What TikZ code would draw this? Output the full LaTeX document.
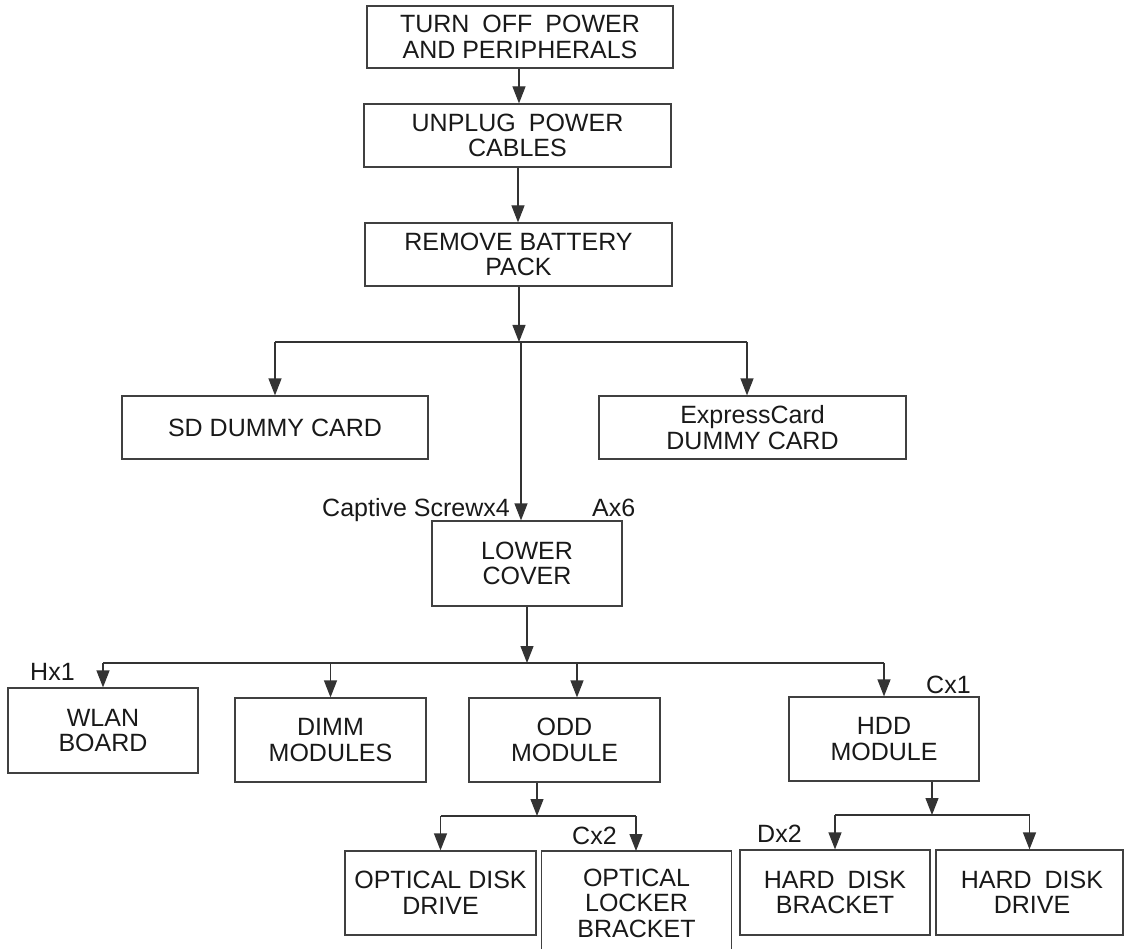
\documentclass[tikz,border=0pt]{standalone}
\usepackage{fontspec}
\setmainfont{Liberation Sans}
\usetikzlibrary{arrows.meta}
\newcommand{\wsp}{\hspace{13pt}}
\tikzset{
  boxn/.style={draw=black!75, line width=1.2pt, rectangle, inner sep=0pt, align=center,
    font=\fontsize{25}{25.5}\selectfont, text=black!90},
  conn/.style={draw=black!80, line width=1.2pt},
  arr/.style={conn, -{Triangle[length=17pt,width=13pt]}},
  lbl/.style={font=\fontsize{25}{25.5}\selectfont, text=black!90, inner sep=0pt}
}
\begin{document}
\begin{tikzpicture}[x=1pt,y=-1pt]
\useasboundingbox (0,0) rectangle (1124,949);
\clip (0,0) rectangle (1124,949);
% boxes
\node[boxn, minimum width=306pt, minimum height=62pt] (top) at (520,37) {TURN\wsp OFF\wsp POWER\\AND PERIPHERALS};
\node[boxn, minimum width=307pt, minimum height=63pt] (unplug) at (517.5,135.5) {UNPLUG\wsp POWER\\CABLES};
\node[boxn, minimum width=307pt, minimum height=63pt] (remove) at (518.5,254.5) {REMOVE BATTERY\\PACK};
\node[boxn, minimum width=306pt, minimum height=63pt] (sd) at (275,427.5) {SD DUMMY CARD};
\node[boxn, minimum width=307pt, minimum height=63pt] (express) at (752.5,427.5) {ExpressCard\\DUMMY CARD};
\node[boxn, minimum width=190pt, minimum height=85pt] (lower) at (527,563.5) {LOWER\\COVER};
\node[boxn, minimum width=190pt, minimum height=85pt] (wlan) at (103,730.5) {WLAN\\BOARD};
\node[boxn, minimum width=191pt, minimum height=84pt] (dimm) at (330.5,740) {DIMM\\MODULES};
\node[boxn, minimum width=191pt, minimum height=84pt] (odd) at (564.5,740) {ODD\\MODULE};
\node[boxn, minimum width=190pt, minimum height=84pt] (hdd) at (884,739) {HDD\\MODULE};
\node[boxn, minimum width=191pt, minimum height=84pt] (odrive) at (440.5,893) {OPTICAL DISK\\DRIVE};
\node[boxn, draw=none, minimum width=189pt, minimum height=104pt] (locker) at (636.5,903) {OPTICAL\\LOCKER\\BRACKET};
\draw[conn, draw=black!75] (locker.south west) -- (locker.south west |- 0,851) -- (locker.south east |- 0,851) -- (locker.south east);
\node[boxn, minimum width=190pt, minimum height=85pt] (hdb) at (835,892.5) {HARD\hspace{6pt} DISK\\BRACKET};
\node[boxn, minimum width=187pt, minimum height=85pt] (hddrive) at (1029.5,892.5) {\hspace*{5pt}HARD\hspace{6pt} DISK\\\hspace*{5pt}DRIVE};
% junctions
\coordinate (j1) at (519,342);
\coordinate (j2) at (527,663);
\coordinate (j3) at (537,816);
\coordinate (j4) at (932,815);
\coordinate (jx) at (747,342);
\coordinate (jl) at (636,816);
% connectors
\draw[arr] (top.south -| 519,0) -- (unplug.north -| 519,0);
\draw[arr] (unplug.south -| 518,0) -- (remove.north -| 518,0);
\draw[arr] (remove.south -| j1) -- (j1);
\draw[conn] (j1 -| sd.north) -- (jx);
\draw[arr] (j1 -| sd.north) -- (sd.north);
\draw[arr] (jx) -- (express.north -| jx);
\draw[arr] (j1 -| 521,0) -- (lower.north -| 521,0);
\draw[arr] (lower.south) -- (j2);
\draw[conn] (j2 -| wlan.north) -- (j2 -| hdd.north);
\draw[arr] (j2 -| wlan.north) -- (wlan.north);
\draw[arr] (j2 -| dimm.north) -- (dimm.north);
\draw[arr] (j2 -| 577,0) -- (odd.north -| 577,0);
\draw[arr] (j2 -| hdd.north) -- (hdd.north);
\draw[arr] (odd.south -| j3) -- (j3);
\draw[conn] (j3 -| odrive.north) -- (jl);
\draw[arr] (j3 -| odrive.north) -- (odrive.north);
\draw[arr] (jl) -- (jl |- 0,851);
\draw[arr] (hdd.south -| j4) -- (j4);
\draw[conn] (j4 -| hdb.north) -- (j4 -| hddrive.north);
\draw[arr] (j4 -| hdb.north) -- (hdb.north);
\draw[arr] (j4 -| hddrive.north) -- (hddrive.north);
% labels
\node[lbl, anchor=base east] (lcap) at (510,516) {Captive Screwx4};
\node[lbl, anchor=base west] (lax) at (592,516) {Ax6};
\node[lbl, anchor=base west] (lhx) at (30,680) {Hx1};
\node[lbl, anchor=base west] (lcx1) at (926,693) {Cx1};
\node[lbl, anchor=base west] (lcx2) at (572,844) {Cx2};
\node[lbl, anchor=base west] (ldx) at (757,842) {Dx2};
\end{tikzpicture}
\end{document}
